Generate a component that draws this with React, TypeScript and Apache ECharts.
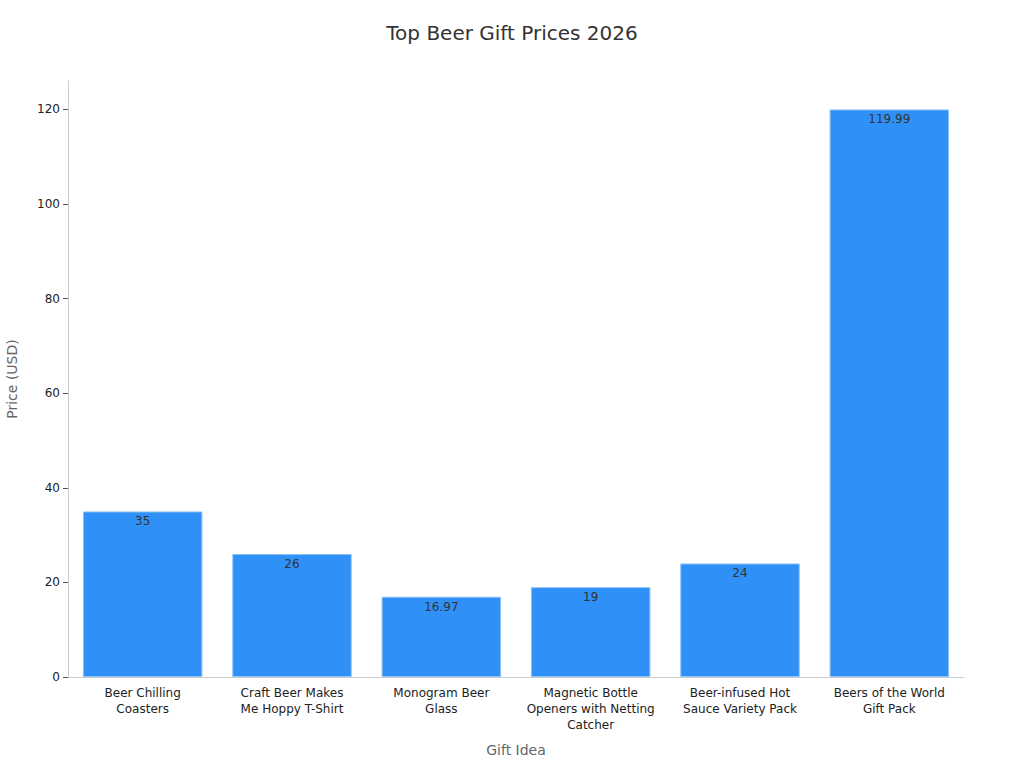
import React, { useEffect, useRef } from "react";
import * as echarts from "echarts";

const categories = [
  "Beer Chilling\nCoasters",
  "Craft Beer Makes\nMe Hoppy T-Shirt",
  "Monogram Beer\nGlass",
  "Magnetic Bottle\nOpeners with Netting\nCatcher",
  "Beer-infused Hot\nSauce Variety Pack",
  "Beers of the World\nGift Pack",
];
const prices = [35, 26, 16.97, 19, 24, 119.99];
const yTicks = [0, 20, 40, 60, 80, 100, 120];

const FONT = "DejaVu Sans";

export default function App() {
  const ref = useRef<HTMLDivElement>(null);
  useEffect(() => {
    document.body.style.margin = "0";
    if (!ref.current) return;
    const chart = echarts.init(ref.current, null, { renderer: "svg" });
    chart.setOption({
      animation: false,
      textStyle: { fontFamily: FONT },
      title: {
        text: "Top Beer Gift Prices 2026",
        left: "center",
        top: 18,
        textStyle: { fontFamily: FONT, fontSize: 20, fontWeight: "normal", color: "#333" },
      },
      grid: { left: 68, right: 60, top: 81, bottom: 91, containLabel: false, outerBoundsMode: "none" },
      xAxis: {
        type: "category",
        data: categories,
        name: "Gift Idea",
        nameLocation: "middle",
        nameGap: 66,
        nameTextStyle: { fontFamily: FONT, fontSize: 14, color: "#666" },
        axisLine: { lineStyle: { color: "#ccc" } },
        axisTick: { alignWithLabel: true, length: 5, lineStyle: { color: "#555" } },
        axisLabel: { fontFamily: FONT, fontSize: 12, color: "#222", lineHeight: 16, margin: 8, interval: 0 },
      },
      yAxis: {
        type: "value",
        min: 0,
        max: 126,
        name: "Price (USD)",
        nameLocation: "middle",
        nameGap: 49,
        nameTextStyle: { fontFamily: FONT, fontSize: 14, color: "#666" },
        axisLine: { show: true, lineStyle: { color: "#ccc" } },
        axisTick: { show: true, length: 5, customValues: yTicks, lineStyle: { color: "#555" } },
        axisLabel: { fontFamily: FONT, fontSize: 12, color: "#222", margin: 8, customValues: yTicks },
        splitLine: { show: false },
      },
      series: [
        {
          type: "bar",
          data: prices,
          barCategoryGap: "20%",
          itemStyle: { color: "#2f91f7", borderColor: "#8cc3f5", borderWidth: 1 },
          label: {
            show: true,
            position: "insideTop",
            distance: 4,
            fontFamily: FONT,
            fontSize: 12,
            color: "#333",
          },
        },
      ],
    });
    return () => chart.dispose();
  }, []);
  return <div ref={ref} style={{ width: 1024, height: 768 }} />;
}
